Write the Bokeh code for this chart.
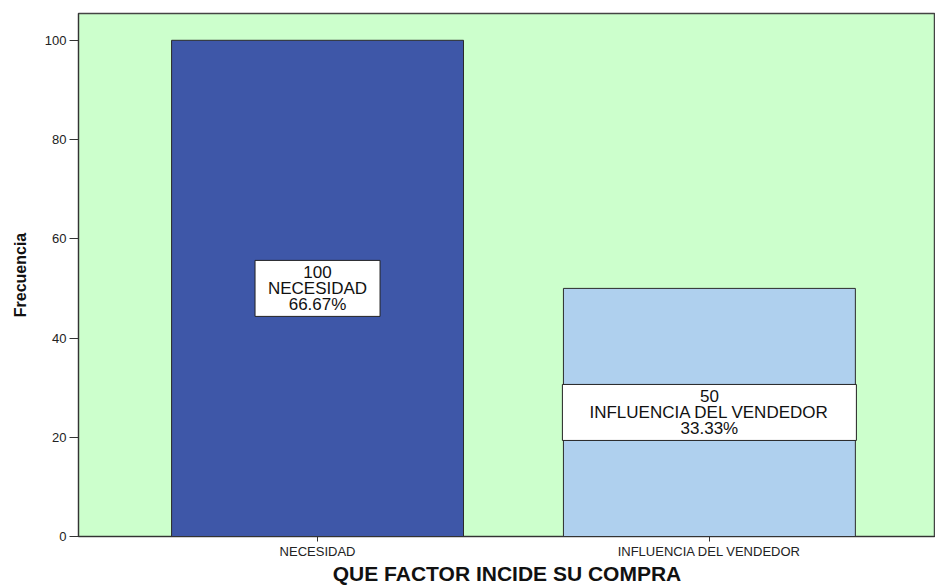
from bokeh.plotting import figure
from bokeh.models import ColumnDataSource, Range1d, FixedTicker
from bokeh.core.properties import value
from bokeh.embed import file_html
from bokeh.resources import INLINE

# Survey answers: what drives the purchase
categories = ["NECESIDAD", "INFLUENCIA DEL VENDEDOR"]
frecuencia = [100, 50]
bar_colors = ["#3e57a8", "#afd0ee"]
y_ticks = [0, 20, 40, 60, 80, 100]

total = sum(frecuencia)
xpos = [i + 1 for i in range(len(categories))]
pct = [f"{v / total * 100:.2f}%" for v in frecuencia]
labels = [f"{v}\n{c}\n{p}" for v, c, p in zip(frecuencia, categories, pct)]
mid = [v / 2 for v in frecuencia]

# label box sizes (screen pixels)
box_w = [125, 294]
box_h = [56, 56]

src = ColumnDataSource(dict(x=xpos, top=frecuencia, color=bar_colors,
                            mid=mid, label=labels, bw=box_w, bh=box_h))

p = figure(width=935, height=587, output_backend="svg", toolbar_location=None,
           x_range=Range1d(0.39, 2.577), y_range=Range1d(0, 105.4),
           min_border_left=78, min_border_right=0, min_border_top=13,
           min_border_bottom=50)

p.background_fill_color = "#ccffcc"
p.border_fill_color = "white"
p.outline_line_color = "#444444"
p.outline_line_width = 1.5
p.grid.visible = False

p.vbar(x="x", top="top", width=0.745, bottom=0, fill_color="color",
       line_color="#2b2b2b", line_width=1, source=src)

p.rect(x="x", y="mid", width="bw", height="bh", width_units="screen",
       height_units="screen", fill_color="white", line_color="#222222",
       line_width=1, source=src)
p.text(x="x", y="mid", text="label", text_align="center",
       text_baseline="middle", text_font=value("Liberation Sans"),
       text_font_size="17px", text_line_height=0.85, text_color="#111111",
       source=src)

# y axis
ya = p.yaxis[0]
ya.ticker = FixedTicker(ticks=y_ticks)
ya.minor_tick_line_color = None
ya.major_tick_out = 9
ya.major_tick_in = 0
ya.major_tick_line_color = "#333333"
ya.axis_line_color = "#333333"
ya.major_label_text_font = "Liberation Sans"
ya.major_label_text_font_size = "13px"
ya.major_label_text_color = "#222222"
ya.major_label_standoff = 3
ya.axis_label = "Frecuencia"
ya.axis_label_text_font = "Liberation Sans"
ya.axis_label_text_font_style = "bold"
ya.axis_label_text_font_size = "16px"
ya.axis_label_text_color = "#111111"
ya.axis_label_standoff = 13

# x axis
xa = p.xaxis[0]
xa.ticker = FixedTicker(ticks=xpos)
xa.major_label_overrides = {x: c for x, c in zip(xpos, categories)}
xa.minor_tick_line_color = None
xa.major_tick_out = 5
xa.major_tick_in = 0
xa.major_tick_line_color = "#333333"
xa.axis_line_color = "#333333"
xa.major_label_text_font = "Liberation Sans"
xa.major_label_text_font_size = "13px"
xa.major_label_text_color = "#222222"
xa.major_label_standoff = 2
xa.axis_label = "QUE FACTOR INCIDE SU COMPRA"
xa.axis_label_text_font = "Liberation Sans"
xa.axis_label_text_font_style = "bold"
xa.axis_label_text_font_size = "21px"
xa.axis_label_text_color = "#111111"
xa.axis_label_standoff = 0

open("out.html", "w").write(file_html(p, INLINE))
